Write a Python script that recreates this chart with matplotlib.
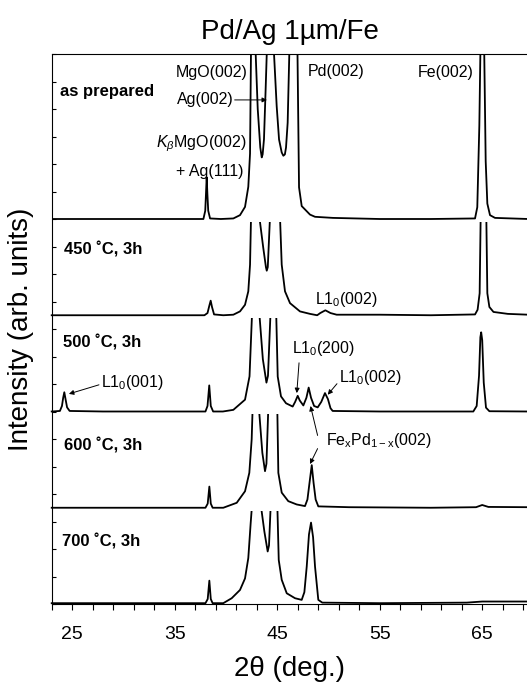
import matplotlib
matplotlib.use("Agg")
import matplotlib.pyplot as plt
from matplotlib.patches import Rectangle
from matplotlib.ticker import MultipleLocator

plt.rcParams["font.family"] = ["Liberation Sans", "DejaVu Sans"]
plt.rcParams["mathtext.fontset"] = "custom"
plt.rcParams["mathtext.rm"] = "Liberation Sans"
plt.rcParams["mathtext.it"] = "Liberation Sans:italic"

# XRD patterns: 2theta (deg) and intensity above each trace's own baseline
tt_asprep = [23.0, 26.0, 30.0, 34.0, 37.8, 37.98, 38.05, 38.12, 38.19, 38.27, 38.45, 39.5,
             40.72, 41.37, 41.86, 42.18, 42.35, 42.44, 42.62, 42.9, 43.1, 43.35, 43.49, 43.58,
             43.71, 43.87, 43.98, 44.35, 44.69, 44.95, 45.18, 45.44, 45.6, 45.75, 45.86, 46.02,
             46.18, 46.6, 46.98, 47.13, 47.39, 48.2, 48.69, 50.44, 55.0, 60.0, 64.3, 64.52,
             64.72, 64.82, 65.0, 65.2, 65.34, 65.5, 65.76, 66.25, 69.5]
i_asprep = [0.0, 0.0, 0.0, 0.0, 0.0, 0.3, 0.9, 1.52, 0.9, 0.3, 0.02, 0.0,
            0.02, 0.14, 0.44, 1.17, 2.38, 6.0, 12.0, 6.0, 4.0, 2.6, 2.24, 2.35,
            2.9, 4.7, 6.0, 12.0, 6.0, 4.1, 2.89, 2.42, 2.3, 2.35, 2.6, 3.5,
            6.0, 12.0, 6.0, 1.15, 0.47, 0.16, 0.08, 0.04, 0.0, 0.0, 0.02, 0.43,
            3.4, 6.0, 12.0, 6.0, 2.1, 0.56, 0.14, 0.04, 0.0]

tt_450 = [23.0, 30.0, 37.9, 38.2, 38.38, 38.51, 38.64, 38.84, 39.74, 40.72, 41.37, 41.86,
          42.18, 42.35, 42.47, 42.8, 43.25, 43.64, 43.9, 43.98, 44.08, 44.3, 44.8, 45.27,
          45.44, 45.76, 46.25, 47.22, 48.2, 48.9, 49.2, 49.7, 50.2, 50.8, 55.0, 60.0,
          64.3, 64.55, 64.75, 64.85, 65.15, 65.4, 65.5, 65.7, 66.1, 67.5, 69.5]
i_450 = [0.0, 0.0, 0.0, 0.08, 0.35, 0.53, 0.3, 0.03, 0.0, 0.02, 0.14, 0.38,
         0.87, 1.84, 4.0, 12.0, 3.6, 2.45, 1.75, 1.62, 1.75, 3.6, 12.0, 3.6,
         1.84, 0.87, 0.44, 0.14, 0.05, 0.0, 0.08, 0.18, 0.08, 0.02, 0.02, 0.0,
         0.03, 0.2, 0.8, 3.6, 12.0, 3.6, 0.8, 0.3, 0.12, 0.05, 0.02]

tt_500 = [23.0, 23.8, 24.0, 24.12, 24.23, 24.35, 24.5, 24.75, 28.0, 34.0, 38.0, 38.2,
          38.37, 38.52, 38.75, 39.7, 40.72, 41.86, 42.3, 42.55, 42.9, 43.25, 43.6, 43.95,
          44.1, 44.35, 44.6, 44.9, 45.05, 45.37, 45.86, 46.51, 46.75, 47.0, 47.2, 47.55,
          47.85, 48.07, 48.3, 48.6, 48.95, 49.3, 49.66, 49.95, 50.2, 50.41, 55.0, 63.0,
          64.13, 64.46, 64.69, 64.82, 64.9, 65.0, 65.15, 65.37, 65.7, 69.5]
i_500 = [0.0, 0.02, 0.2, 0.5, 0.7, 0.45, 0.15, 0.02, 0.0, 0.0, 0.0, 0.2,
         0.95, 0.2, 0.0, 0.0, 0.06, 0.43, 1.28, 3.6, 12.0, 3.6, 1.9, 1.05,
         1.3, 3.6, 12.0, 3.6, 1.27, 0.55, 0.3, 0.18, 0.35, 0.57, 0.4, 0.22,
         0.5, 0.87, 0.5, 0.2, 0.15, 0.35, 0.67, 0.45, 0.12, 0.02, 0.0, 0.0,
         0.0, 0.2, 1.3, 2.7, 2.88, 2.6, 1.05, 0.14, 0.01, 0.0]

tt_600 = [23.0, 30.0, 38.0, 38.22, 38.38, 38.52, 38.7, 39.74, 41.05, 41.86, 42.28, 42.51,
          42.6, 42.9, 43.22, 43.55, 43.81, 43.95, 44.13, 44.55, 45.01, 45.11, 45.44, 46.08,
          46.9, 47.71, 47.95, 48.15, 48.37, 48.55, 48.75, 49.01, 52.0, 60.0, 64.4, 65.0,
          65.6, 69.5]
i_600 = [0.0, 0.0, 0.0, 0.15, 0.77, 0.15, 0.0, 0.0, 0.18, 0.6, 1.27, 2.49,
         3.6, 12.0, 3.6, 2.0, 1.33, 1.6, 3.6, 12.0, 3.6, 1.27, 0.55, 0.24,
         0.12, 0.06, 0.3, 0.9, 1.55, 0.9, 0.3, 0.05, 0.02, 0.0, 0.02, 0.1,
         0.03, 0.02]

tt_700 = [23.0, 30.0, 38.0, 38.22, 38.38, 38.52, 38.7, 39.74, 40.56, 41.37, 41.86, 42.18,
          42.41, 42.55, 42.95, 43.39, 43.75, 44.07, 44.2, 44.37, 44.7, 45.01, 45.15, 45.44,
          45.93, 46.74, 47.39, 47.65, 47.88, 48.1, 48.3, 48.5, 48.69, 49.01, 49.4, 55.0,
          63.5, 65.0, 69.5]
i_700 = [0.0, 0.0, 0.0, 0.15, 0.82, 0.15, 0.0, 0.0, 0.18, 0.48, 0.9, 1.64,
         2.9, 3.6, 12.0, 3.6, 2.6, 1.88, 2.1, 3.6, 12.0, 3.6, 1.57, 0.85,
         0.36, 0.18, 0.12, 0.4, 1.33, 2.5, 2.93, 2.4, 1.33, 0.12, 0.02, 0.0,
         0.02, 0.06, 0.06]

patterns = [(tt_asprep, i_asprep), (tt_450, i_450), (tt_500, i_500), (tt_600, i_600), (tt_700, i_700)]
offsets = [14.0, 10.5, 7.0, 3.5, 0.03]
sample_labels = ["as prepared", "450 \u02daC, 3h", "500 \u02daC, 3h", "600 \u02daC, 3h", "700 \u02daC, 3h"]
label_pos = [(23.79, 18.64), (24.2, 12.89), (24.09, 9.50), (24.19, 5.77), (24.02, 2.28)]

fig = plt.figure(figsize=(5.27, 6.84), dpi=100)
ax = fig.add_axes([51.7 / 527, 1 - 604 / 684, 475.3 / 527, 550 / 684])

y_top = 20.0
for k, (tt, inten) in enumerate(patterns):
    y = [v + offsets[k] for v in inten]
    line, = ax.plot(tt, y, color="black", lw=1.3)
    if k > 0:
        # each pattern is cut just below the baseline of the one above
        top = offsets[k - 1] - 0.1
        clip = Rectangle((20, -5), 60, top + 5, transform=ax.transData)
        line.set_clip_path(clip)
    ax.text(label_pos[k][0], label_pos[k][1], sample_labels[k], fontsize=12,
            fontweight="bold", ha="left", va="center")

ax.set_xlim(23, 69.37)
ax.set_ylim(0, y_top)

ax.set_xticks([25, 35, 45, 55, 65])
ax.xaxis.set_minor_locator(MultipleLocator(2, offset=1))
ax.tick_params(axis="x", which="both", direction="out", length=4.5, width=0.8,
               labelsize=14, pad=11)
ax.set_yticks(range(0, 21))
ax.set_yticklabels([])
ax.tick_params(axis="y", which="both", direction="in", length=3, width=0.8)
ax.spines["right"].set_visible(False)
for s in ["left", "bottom", "top"]:
    ax.spines[s].set_linewidth(0.8)

# peak labels
fs = 11.5
ax.text(42.15, 19.33, "MgO(002)", fontsize=fs, ha="right", va="center")
ax.text(40.79, 18.33, "Ag(002)", fontsize=fs, ha="right", va="center")
ax.text(42.05, 16.73, r"$K_{\beta}$MgO(002)", fontsize=fs, ha="right", va="center")
ax.text(41.76, 15.73, "+ Ag(111)", fontsize=fs, ha="right", va="center")
ax.text(47.97, 19.36, "Pd(002)", fontsize=fs, ha="left", va="center")
ax.text(64.2, 19.33, "Fe(002)", fontsize=fs, ha="right", va="center")
ax.text(48.69, 11.07, r"L1$_0$(002)", fontsize=fs, ha="left", va="center")
ax.text(46.42, 9.29, r"L1$_0$(200)", fontsize=fs, ha="left", va="center")
ax.text(27.79, 8.06, r"L1$_0$(001)", fontsize=fs, ha="left", va="center")
ax.text(51.0, 8.22, r"L1$_0$(002)", fontsize=fs, ha="left", va="center")
ax.text(49.76, 5.93, r"Fe$_\mathrm{x}$Pd$_\mathrm{1-x}$(002)", fontsize=fs, ha="left", va="center")

arrows = [((40.85, 18.33), (44.0, 18.33)),
          ((47.13, 8.77), (46.91, 7.67)),
          ((27.61, 7.97), (24.68, 7.64)),
          ((50.83, 8.01), (49.93, 7.61)),
          ((48.94, 6.13), (48.25, 7.2)),
          ((48.94, 5.65), (48.2, 5.09))]
for start, tip in arrows:
    ax.annotate("", xy=tip, xytext=start,
                arrowprops=dict(arrowstyle="-|>", lw=0.7, color="black",
                                mutation_scale=7, shrinkA=0, shrinkB=0))

fig.text(290 / 527, 1 - 32 / 684, "Pd/Ag 1\u00b5m/Fe", fontsize=20, ha="center", va="center")
fig.text(290 / 527, 1 - 669 / 684, "2\u03b8 (deg.)", fontsize=20, ha="center", va="center")
fig.text(21 / 527, 1 - 329 / 684, "Intensity (arb. units)", fontsize=20, rotation=90,
         ha="center", va="center")

fig.savefig("out.png", dpi=100)
